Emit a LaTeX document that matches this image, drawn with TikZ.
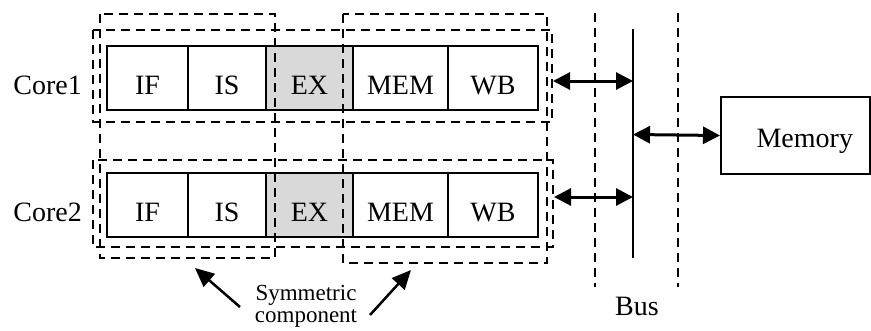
\documentclass[tikz,border=0pt]{standalone}
\usepackage{fontspec}
\setmainfont{Liberation Serif}
\usepackage{tikz}
\usetikzlibrary{arrows.meta, positioning}

\tikzset{
  stage/.style={draw, line width=2pt, outer sep=0pt, inner sep=0pt, minimum height=64pt, text height=32pt, text depth=0pt},
  core/.style={inner sep=0pt, text height=32pt, text depth=0pt},
  group/.style={line width=2pt, dash pattern=on 9pt off 6pt},
  link/.style={{Triangle[length=17pt,width=17pt]}-{Triangle[length=17pt,width=17pt]}, line width=3pt},
  pointer/.style={-{Triangle[length=19pt,width=17pt]}, line width=2.5pt},
}

\begin{document}
\begin{tikzpicture}[x=1pt, y=-1pt, font=\fontsize{28}{32}\selectfont]
  \useasboundingbox (0,0) rectangle (871,330);

  % Core1 pipeline
  \node (if1) [stage, minimum width=81pt, anchor=north west] at (107,46) {IF};
  \node (is1) [stage, minimum width=78pt, right=0pt of if1] {IS};
  \node (ex1) [stage, fill=gray!30, minimum width=87pt, right=0pt of is1] {EX};
  \node (mem1) [stage, minimum width=95pt, right=0pt of ex1] {MEM};
  \node (wb1) [stage, minimum width=90pt, right=0pt of mem1] {WB};

  % Core2 pipeline
  \node (if2) [stage, minimum width=81pt, anchor=north west] at (107,173) {IF};
  \node (is2) [stage, minimum width=78pt, right=0pt of if2] {IS};
  \node (ex2) [stage, fill=gray!30, minimum width=87pt, right=0pt of is2] {EX};
  \node (mem2) [stage, minimum width=95pt, right=0pt of ex2] {MEM};
  \node (wb2) [stage, minimum width=90pt, right=0pt of mem2] {WB};

  % Core labels
  \node (core1) [core, left=25pt of if1] {Core1};
  \node (core2) [core, left=25pt of if2] {Core2};

  % Dashed groups
  \draw[group] (93,30) rectangle (552,122);
  \draw[group] (93,160) rectangle (553,247);
  \draw[group] (100,14) rectangle (275,258);
  \draw[group] (343,14) rectangle (547,263);

  % Bus
  \coordinate (bustop) at (633,29);
  \coordinate (busbot) at (633,258);
  \draw[line width=2pt] (bustop) -- (busbot);
  \coordinate (busl) at (595,13);
  \coordinate (busl') at (595,287);
  \coordinate (busr) at (678,13);
  \coordinate (busr') at (678,287);
  \draw[group] (busl) -- (busl');
  \draw[group] (busr) -- (busr');
  \node (bus) at (637,306) {Bus};

  % Memory
  \node (memory) [draw, line width=2pt, inner sep=0pt, minimum width=149pt, minimum height=77pt, text width=115pt, align=right, text height=24pt, text depth=0pt, anchor=north west] at (720,96) {Memory};

  % Bus connections
  \coordinate (port1) at (553,81);
  \coordinate (tap1) at (633,81);
  \coordinate (port2) at (554,197);
  \coordinate (tap2) at (633,197);
  \coordinate (tap3) at (633,134.5);
  \draw[link] (port1) -- (tap1);
  \draw[link] (port2) -- (tap2);
  \draw[link] (tap3) -- (memory.west);

  % Symmetric component
  \node (sym) [inner sep=0pt, align=center, anchor=north, font=\fontsize{23}{22}\selectfont] at (306,285) {Symmetric\\component};
  \coordinate (symL) at (240,307);
  \coordinate (symR) at (370,315);
  \coordinate (grpL) at (195,268);
  \coordinate (grpR) at (411,270);
  \draw[pointer] (symL) -- (grpL);
  \draw[pointer] (symR) -- (grpR);
\end{tikzpicture}
\end{document}
